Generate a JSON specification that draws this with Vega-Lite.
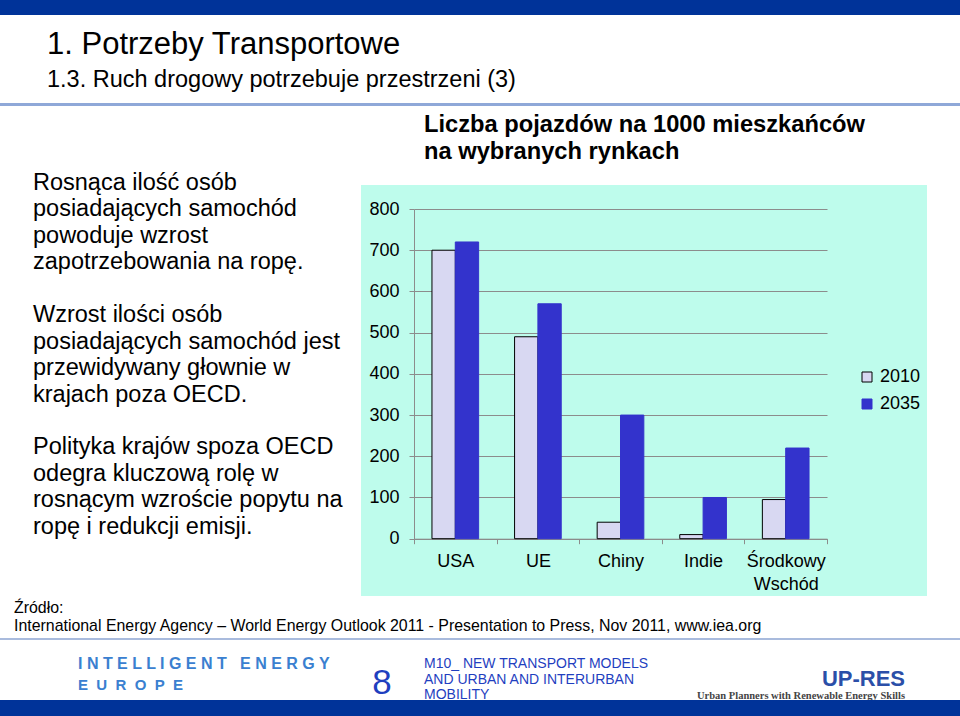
{
  "$schema": "https://vega.github.io/schema/vega-lite/v6.json",
  "background": "white",
  "padding": 0,
  "config": {
    "font": "Liberation Sans",
    "view": {"stroke": null}
  },
  "columns": 2,
  "spacing": 0,
  "bounds": "flush",
  "align": "each",
  "concat": [
    {"width": 361, "height": 15, "view": {"fill": "#003399", "stroke": null}, "data": {"values": []}, "mark": "point"},
    {"width": 599, "height": 15, "view": {"fill": "#003399", "stroke": null}, "data": {"values": []}, "mark": "point"},

    {"width": 1, "height": 88, "data": {"values": []}, "mark": "point"},
    {"width": 1, "height": 88, "data": {"values": []}, "mark": "point"},

    {"width": 361, "height": 3, "view": {"fill": "#8FA8D8", "stroke": null},
     "title": {"text": "1. Potrzeby Transportowe", "subtitle": "1.3. Ruch drogowy potrzebuje przestrzeni (3)", "anchor": "start", "frame": "group", "dx": 47, "offset": 11, "fontSize": 31, "fontWeight": "normal", "color": "#000000", "subtitleFontSize": 23.5, "subtitleColor": "#000000", "subtitlePadding": 7, "subtitleFont": "Liberation Sans"},
     "data": {"values": []}, "mark": "point"},
    {"width": 599, "height": 3, "view": {"fill": "#8FA8D8", "stroke": null}, "data": {"values": []}, "mark": "point"},

    {"width": 1, "height": 79, "data": {"values": []}, "mark": "point"},
    {"width": 1, "height": 79, "data": {"values": []}, "mark": "point"},

    {"width": 66, "height": 274,
     "data": {"values": [
       {"tekst": "Rosnąca ilość osób\nposiadających samochód\npowoduje wzrost\nzapotrzebowania na ropę."},
       {"tekst": "Wzrost ilości osób\nposiadających samochód jest\nprzewidywany głownie w\nkrajach poza OECD."},
       {"tekst": "Polityka krajów spoza OECD\nodegra kluczową rolę w\nrosnącym wzroście  popytu na\nropę i redukcji emisji."}
     ]},
     "mark": {"type": "text", "align": "left", "baseline": "alphabetic", "lineBreak": "\n", "fontSize": 23.5, "lineHeight": 26.5, "color": "#000000"},
     "encoding": {
       "y": {"field": "tekst", "type": "nominal", "sort": null, "axis": null, "scale": {"type": "point", "padding": 0.034}},
       "text": {"field": "tekst", "type": "nominal"}
     }},
    {"width": 566, "height": 411,
     "view": {"fill": "#BEFCEC", "stroke": null},
     "title": {"text": ["Liczba pojazdów na 1000 mieszkańców", "na wybranych rynkach"], "anchor": "start", "frame": "group", "dx": 63, "offset": 21, "fontSize": 23.7, "fontWeight": "bold", "lineHeight": 27, "color": "#000000"},
     "data": {"values": [
       {"rynek": "USA", "rok": "2010", "wartosc": 700},
       {"rynek": "USA", "rok": "2035", "wartosc": 720},
       {"rynek": "UE", "rok": "2010", "wartosc": 490},
       {"rynek": "UE", "rok": "2035", "wartosc": 570},
       {"rynek": "Chiny", "rok": "2010", "wartosc": 40},
       {"rynek": "Chiny", "rok": "2035", "wartosc": 300},
       {"rynek": "Indie", "rok": "2010", "wartosc": 10},
       {"rynek": "Indie", "rok": "2035", "wartosc": 100},
       {"rynek": "Środkowy Wschód", "rok": "2010", "wartosc": 95},
       {"rynek": "Środkowy Wschód", "rok": "2035", "wartosc": 220}
     ]},
     "mark": {"type": "bar", "strokeWidth": 1},
     "encoding": {
       "x": {"field": "rynek", "type": "nominal", "sort": null,
             "scale": {"range": [53, 466], "paddingInner": 0, "paddingOuter": 0},
             "axis": {"title": null, "offset": -57.3, "tickBand": "extent", "labelAngle": 0, "labelFontSize": 18, "labelColor": "#000000", "labelPadding": 8.5, "labelLineHeight": 23, "labelExpr": "split(datum.label, ' ')", "domainColor": "#8C8C8C", "tickColor": "#8C8C8C", "tickSize": 5}},
       "xOffset": {"field": "rok", "type": "nominal", "scale": {"paddingInner": 0, "paddingOuter": 0.77}},
       "y": {"field": "wartosc", "type": "quantitative",
             "scale": {"domain": [0, 800], "range": [353.7, 24], "nice": false},
             "axis": {"title": null, "values": [0, 100, 200, 300, 400, 500, 600, 700, 800], "offset": -53, "grid": true, "gridColor": "#8C8C8C", "domainColor": "#8C8C8C", "tickColor": "#8C8C8C", "tickSize": 5, "labelFontSize": 18, "labelColor": "#000000", "labelPadding": 10}},
       "color": {"field": "rok", "type": "nominal",
                 "scale": {"domain": ["2010", "2035"], "range": ["#D8D8F2", "#3333CC"]},
                 "legend": {"orient": "none", "legendX": 858, "legendY": 368, "title": null, "symbolType": "square", "symbolSize": 100, "symbolStrokeWidth": 1, "labelFontSize": 18, "labelColor": "#000000", "rowPadding": 9, "labelOffset": 4, "padding": 0}},
       "stroke": {"field": "rok", "type": "nominal",
                  "scale": {"domain": ["2010", "2035"], "range": ["#000000", "#3333CC"]},
                  "legend": {"orient": "none", "legendX": 858, "legendY": 368, "title": null, "symbolType": "square", "symbolSize": 100, "symbolStrokeWidth": 1, "labelFontSize": 18, "labelColor": "#000000", "rowPadding": 9, "labelOffset": 4, "padding": 0}}
     }},

    {"width": 1, "height": 42,
     "title": {"text": "I N T E L L I G E N T\u00a0\u00a0\u00a0E N E R G Y", "subtitle": "E\u00a0\u00a0U\u00a0\u00a0R\u00a0\u00a0O\u00a0\u00a0P\u00a0\u00a0E", "orient": "bottom", "anchor": "start", "frame": "group", "dx": 78, "offset": 18.1, "fontSize": 16, "fontWeight": "bold", "color": "#3A80D0", "subtitleFontSize": 15, "subtitleFontWeight": "bold", "subtitleColor": "#3A80D0", "subtitlePadding": 5.4, "subtitleFont": "Liberation Sans"},
     "data": {"values": []}, "mark": "point"},
    {"width": 1, "height": 42, "data": {"values": []}, "mark": "point"},

    {"width": 361, "height": 2, "view": {"fill": "#A9BBDD", "stroke": null},
     "title": {"text": ["Źródło:", "International Energy Agency – World Energy Outlook 2011 - Presentation to Press,  Nov 2011, www.iea.org"], "anchor": "start", "frame": "group", "dx": 14, "offset": 4, "fontSize": 15.9, "fontWeight": "normal", "lineHeight": 18, "color": "#000000"},
     "data": {"values": []}, "mark": "point"},
    {"width": 599, "height": 2, "view": {"fill": "#A9BBDD", "stroke": null},
     "title": {"text": "UP-RES", "subtitle": "Urban Planners with Renewable Energy Skills", "orient": "bottom", "anchor": "end", "frame": "group", "dx": -55, "offset": 29, "fontSize": 22, "fontWeight": "bold", "color": "#2B4FA8", "subtitleFontSize": 10.5, "subtitleFontWeight": "bold", "subtitleColor": "#444444", "subtitleFont": "Liberation Serif", "subtitlePadding": 0},
     "data": {"values": []}, "mark": "point"},

    {"width": 1, "height": 51, "data": {"values": []}, "mark": "point"},
    {"width": 1, "height": 51, "data": {"values": []}, "mark": "point"},

    {"width": 1, "height": 9, "data": {"values": []}, "mark": "point"},
    {"width": 42, "height": 6,
     "data": {"values": [{"nr": "8"}]},
     "mark": {"type": "text", "align": "center", "baseline": "alphabetic", "fontSize": 35, "color": "#1F3FBF"},
     "encoding": {"text": {"field": "nr", "type": "nominal"}}},

    {"width": 361, "height": 16, "view": {"fill": "#003399", "stroke": null}, "data": {"values": []}, "mark": "point"},
    {"width": 599, "height": 16, "view": {"fill": "#003399", "stroke": null},
     "title": {"text": ["M10_ NEW TRANSPORT MODELS", "AND URBAN AND INTERURBAN", "MOBILITY"], "anchor": "start", "frame": "group", "dx": 63, "offset": -2, "fontSize": 14, "fontWeight": "normal", "lineHeight": 15.5, "color": "#1F3FBF"},
     "data": {"values": []}, "mark": "point"}
  ]
}
